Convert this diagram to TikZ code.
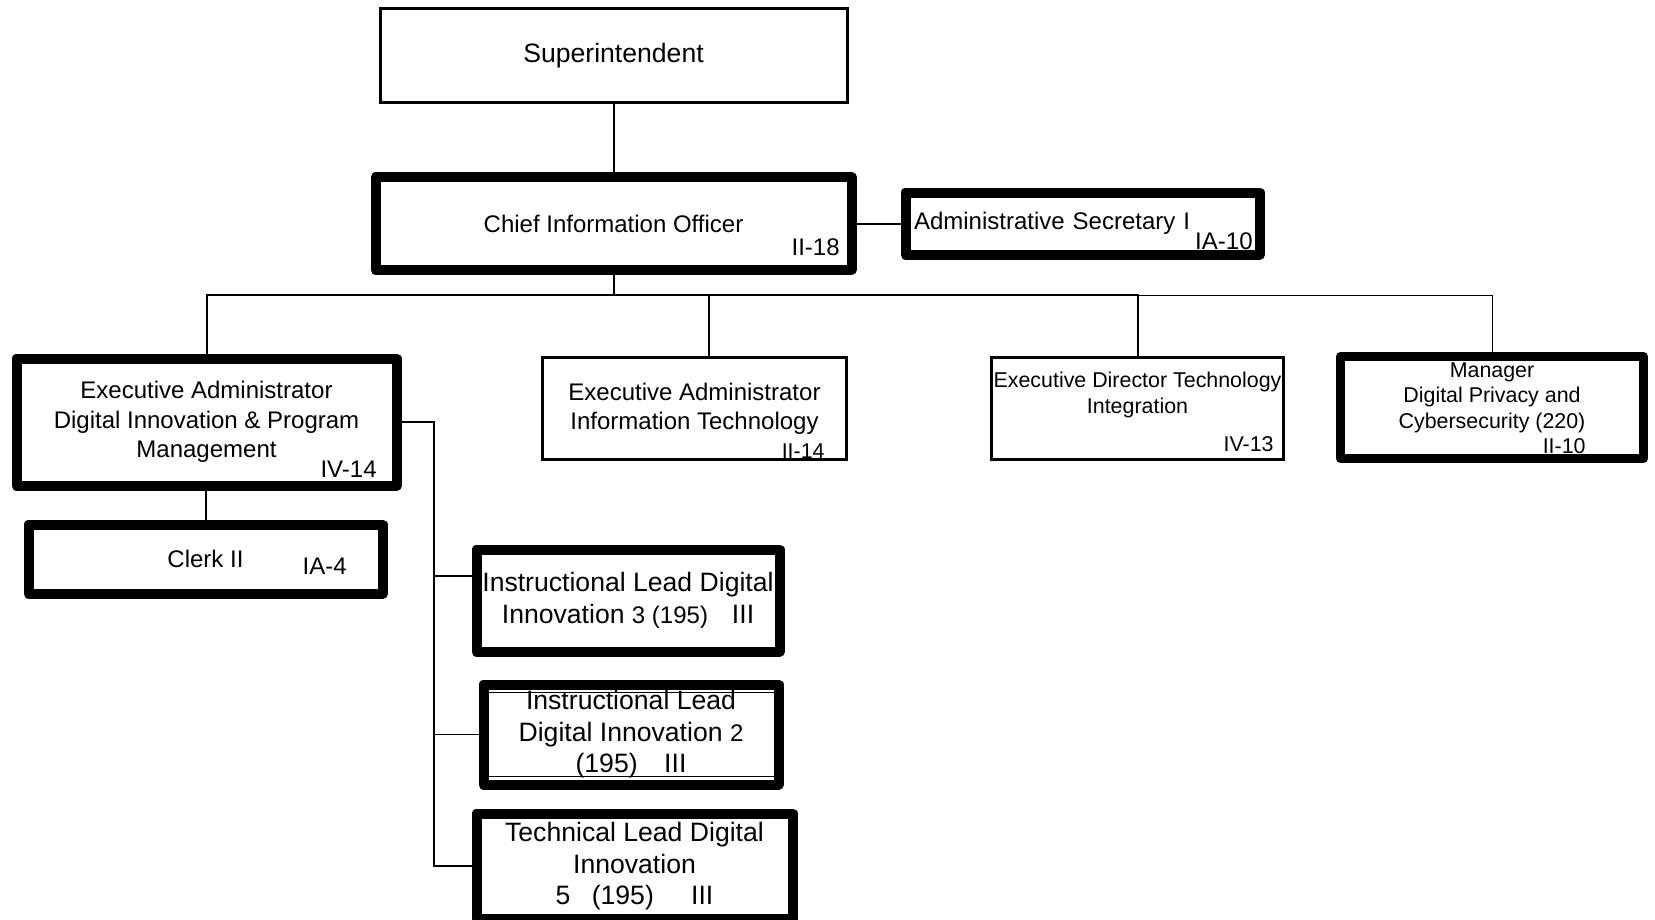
\documentclass[tikz,border=0pt]{standalone}
\usepackage{fontspec}
\setmainfont{Liberation Sans}
\usepackage{tikz}
\usetikzlibrary{calc,positioning}

\newcommand{\bigtext}{\fontsize{13.3}{15.75}\selectfont}
\newcommand{\midtext}{\fontsize{12}{14.8}\selectfont}
\newcommand{\smalltext}{\fontsize{10.7}{12.9}\selectfont}

\begin{document}
\begin{tikzpicture}[
    x=0.5pt, y=-0.5pt,
    box/.style={draw=black, rectangle, inner sep=0pt, outer sep=0pt, align=center, font=\midtext},
    heavy/.style={box, line width=5pt, line join=round},
    plain/.style={box, line width=1.6pt},
    title/.style={inner sep=0pt, align=center, font=\smalltext},
    grade/.style={inner sep=0pt, anchor=east, font=\midtext},
    link/.style={line width=1pt},
    branch/.style={line width=0.8pt}
]
    \useasboundingbox (0,0) rectangle (1655,920);

    % top of the chart
    \node[box, line width=1.5pt, minimum width=233.5pt, minimum height=47pt, font=\bigtext] (sup) at (613.5,55.5) {Superintendent};
    \node[heavy, minimum width=238pt, minimum height=46pt] (cio) at (613.5,223.5) {Chief Information Officer};
    \node[grade] (cio-g) at ([xshift=-5.75pt, yshift=11.25pt]cio.south east) {II-18};
    \node[heavy, minimum width=177pt, minimum height=31pt, text width=168.5pt, align=left] (sec) at (1082.5,223.5) {Administrative Secretary I};
    \node[grade] (sec-g) at ([xshift=-3.25pt, yshift=6.75pt]sec.south east) {IA-10};

    % second row
    \node[heavy, minimum width=190pt, minimum height=63.5pt] (eadi) at (206.5,422) {Executive Administrator\\Digital Innovation \& Program\\Management};
    \node[grade] (eadi-g) at ([xshift=-9.75pt, yshift=8.25pt]eadi.south east) {IV-14};
    \node[plain, minimum width=152pt, minimum height=51pt, font=\fontsize{12}{14.5}\selectfont] (eait) at (694.5,408.5) {Executive Administrator\\Information Technology};
    \node[grade, font=\smalltext] (eait-g) at ([xshift=-10.75pt, yshift=4.25pt]eait.south east) {II-14};
    \node[plain, minimum width=146pt, minimum height=51pt] (edti) at (1137.5,408.5) {};
    \node[title] (edti-t) at ([yshift=6.75pt]edti.center) {Executive Director Technology\\Integration};
    \node[grade, font=\smalltext] (edti-g) at ([xshift=-4.75pt, yshift=7.75pt]edti.south east) {IV-13};
    \node[heavy, line width=4.5pt, minimum width=151.5pt, minimum height=51pt] (mgr) at (1492,407.5) {};
    \node[title, font=\fontsize{10.7}{12.75}\selectfont] (mgr-t) at ([yshift=5pt]mgr.center) {Manager\\Digital Privacy and\\Cybersecurity (220)};
    \node[grade, font=\smalltext] (mgr-g) at ([xshift=-28.75pt, yshift=6.25pt]mgr.south east) {II-10};

    % digital innovation team
    \node[heavy, minimum width=177pt, minimum height=34.5pt] (clerk) at (205.5,559) {Clerk II};
    \node[grade] (clerk-g) at ([xshift=-17.75pt, yshift=13.75pt]clerk.south east) {IA-4};
    \node[heavy, minimum width=151.5pt, minimum height=51pt, font=\fontsize{13.3}{16}\selectfont] (il3) at (628,600.5) {Instructional Lead Digital\\Innovation {\midtext 3 (195)}\hspace{0.9em}III};
    \node[heavy, minimum width=147.5pt, minimum height=50pt, font=\bigtext] (il2) at (631,734.5) {Instructional Lead\\Digital Innovation {\midtext 2}\\(195)\quad III};
    \draw[line width=0.5pt] ([xshift=2pt, yshift=-4pt]il2.north west) rectangle ([xshift=-2pt, yshift=4pt]il2.south east);
    \node[heavy, minimum width=158pt, minimum height=52.75pt, font=\bigtext] (tl) at (634.5,866.25) {Technical Lead Digital\\Innovation\\5\hspace{0.8em}(195)\hspace{1.4em}III};

    % connectors
    \coordinate (bus) at (613.5,295);
    \coordinate (eaitin) at ([xshift=7.25pt]eait.north);
    \coordinate (spine) at (434,422);
    \coordinate (il3in) at ([yshift=12.25pt]il3.west);
    \draw[link] (sup) -- (cio);
    \draw[link] (cio) -- (sec);
    \draw[link] (cio) -- (bus);
    \draw[link] (eadi.north) |- (bus);
    \draw[link] (bus) -| (edti.north);
    \draw[link] (eaitin |- bus) -- (eaitin);
    \draw[line width=0.5pt] (edti.north |- bus) -| (mgr.north);
    \draw[link] (clerk.north |- eadi.south) -- (clerk.north);
    \draw[branch] (eadi.east) -- (spine) |- (tl.west);
    \draw[branch] (il3in -| spine) -- (il3in);
    \draw[branch] (il2.west -| spine) -- (il2.west);
\end{tikzpicture}
\end{document}
